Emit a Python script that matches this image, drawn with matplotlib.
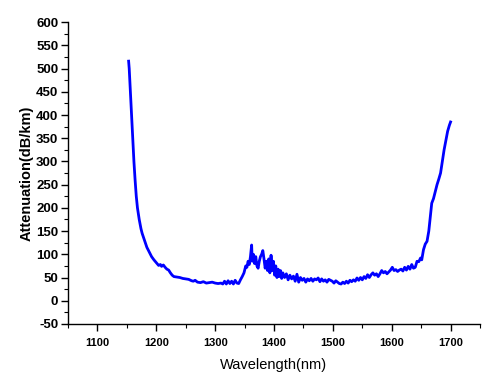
import numpy as np
import matplotlib
matplotlib.use('agg')
import matplotlib.pyplot as plt
from matplotlib.ticker import MultipleLocator

# wavelength (nm) and attenuation (dB/km)
wavelength = [
    1153, 1154, 1156, 1158, 1160, 1162, 1164, 1166, 1168, 1171, 1174, 1176,
    1180, 1184, 1188, 1192, 1196, 1200, 1204, 1207, 1209, 1212, 1215, 1218,
    1221, 1224, 1227, 1230, 1235, 1240, 1245, 1250, 1255, 1260, 1263, 1266,
    1270, 1275, 1280, 1285, 1290, 1295, 1300, 1305, 1310, 1313, 1316, 1319,
    1322, 1325, 1328, 1331, 1334, 1337, 1340, 1343, 1346, 1349, 1352, 1354,
    1356, 1358, 1360, 1362, 1363, 1365, 1367, 1369, 1371, 1373, 1375, 1377,
    1379, 1381, 1383, 1385, 1387, 1389, 1391, 1393, 1395, 1397, 1399, 1401,
    1403, 1405, 1407, 1409, 1411, 1413, 1415, 1418, 1421, 1424, 1427, 1430,
    1433, 1436, 1439, 1442, 1445, 1448, 1451, 1454, 1457, 1460, 1463, 1466,
    1469, 1472, 1475, 1478, 1481, 1484, 1487, 1490, 1493, 1496, 1499, 1502,
    1505, 1508, 1511, 1514, 1517, 1520, 1523, 1526, 1529, 1532, 1535, 1538,
    1541, 1544, 1547, 1550, 1553, 1556, 1559, 1562, 1565, 1568, 1571, 1574,
    1577, 1580, 1583, 1586, 1589, 1592, 1595, 1598, 1601, 1604, 1607, 1610,
    1613, 1616, 1619, 1622, 1625, 1628, 1631, 1634, 1637, 1640, 1643, 1646,
    1649, 1651, 1654, 1657, 1660, 1663, 1666, 1668, 1671, 1674, 1677, 1680,
    1683, 1686, 1689, 1692, 1695, 1698, 1700,
]
attenuation = [
    516, 500, 450, 400, 350, 300, 260, 225, 200, 175, 155, 145,
    130, 115, 105, 95, 88, 82, 76, 78, 74, 77, 72, 68,
    66, 60, 55, 52, 51, 50, 48, 47, 46, 43, 42, 44,
    40, 39, 41, 38, 39, 40, 38, 37, 38, 36, 42, 36,
    43, 37, 42, 36, 44, 38, 37, 45, 52, 60, 75, 72,
    85, 78, 95, 120, 85, 100, 80, 95, 75, 70, 85, 95,
    100, 108, 90, 70, 85, 65, 90, 60, 98, 65, 85, 55,
    75, 50, 68, 52, 65, 48, 60, 50, 58, 45, 55, 47,
    53, 42, 57, 40, 50, 44, 48, 40, 47, 43, 48, 42,
    47, 45, 49, 41, 47, 42, 45, 40, 46, 44, 42, 38,
    43, 40, 37, 36, 40, 37, 42, 38, 44, 41, 45, 42,
    49, 44, 50, 45, 52, 48, 56, 50, 56, 60, 55, 58,
    52, 58, 65, 60, 63, 58, 62, 66, 72, 65, 67, 63,
    66, 68, 64, 72, 66, 74, 68, 78, 70, 72, 85, 84,
    92, 88, 110, 122, 128, 150, 185, 210, 220, 235, 250, 262,
    275, 300, 325, 345, 365, 378, 385,
]

plt.rcParams['font.family'] = ['Liberation Sans', 'DejaVu Sans']
plt.rcParams['axes.unicode_minus'] = False

fig = plt.figure(figsize=(5, 3.82), dpi=100)
ax = fig.add_axes([0.136, 0.152, 0.824, 0.790])

ax.plot(wavelength, attenuation, color='#0000ff', linewidth=2.0)

ax.set_xlim(1050, 1750)
ax.set_ylim(-50, 600)
ax.xaxis.set_minor_locator(MultipleLocator(50))
ax.yaxis.set_major_locator(MultipleLocator(50))
ax.yaxis.set_minor_locator(MultipleLocator(25))
ax.set_xticks([1100, 1200, 1300, 1400, 1500, 1600, 1700])

# only the left and bottom frame
ax.spines['top'].set_visible(False)
ax.spines['right'].set_visible(False)
ax.spines['left'].set_linewidth(1.0)
ax.spines['bottom'].set_linewidth(1.0)

ax.tick_params(which='major', direction='out', length=5, width=1.0)
ax.tick_params(which='minor', direction='out', length=3, width=0.8)
ax.tick_params(axis='y', labelsize=9.5, pad=2)
ax.tick_params(axis='x', labelsize=8, pad=5)
for lab in ax.get_xticklabels() + ax.get_yticklabels():
    lab.set_fontweight('bold')

ax.set_xlabel('Wavelength(nm)', fontsize=10.5, labelpad=7)
ax.set_ylabel('Attenuation(dB/km)', fontsize=10.5, fontweight='bold', labelpad=2)

fig.savefig('out.png', dpi=100)
